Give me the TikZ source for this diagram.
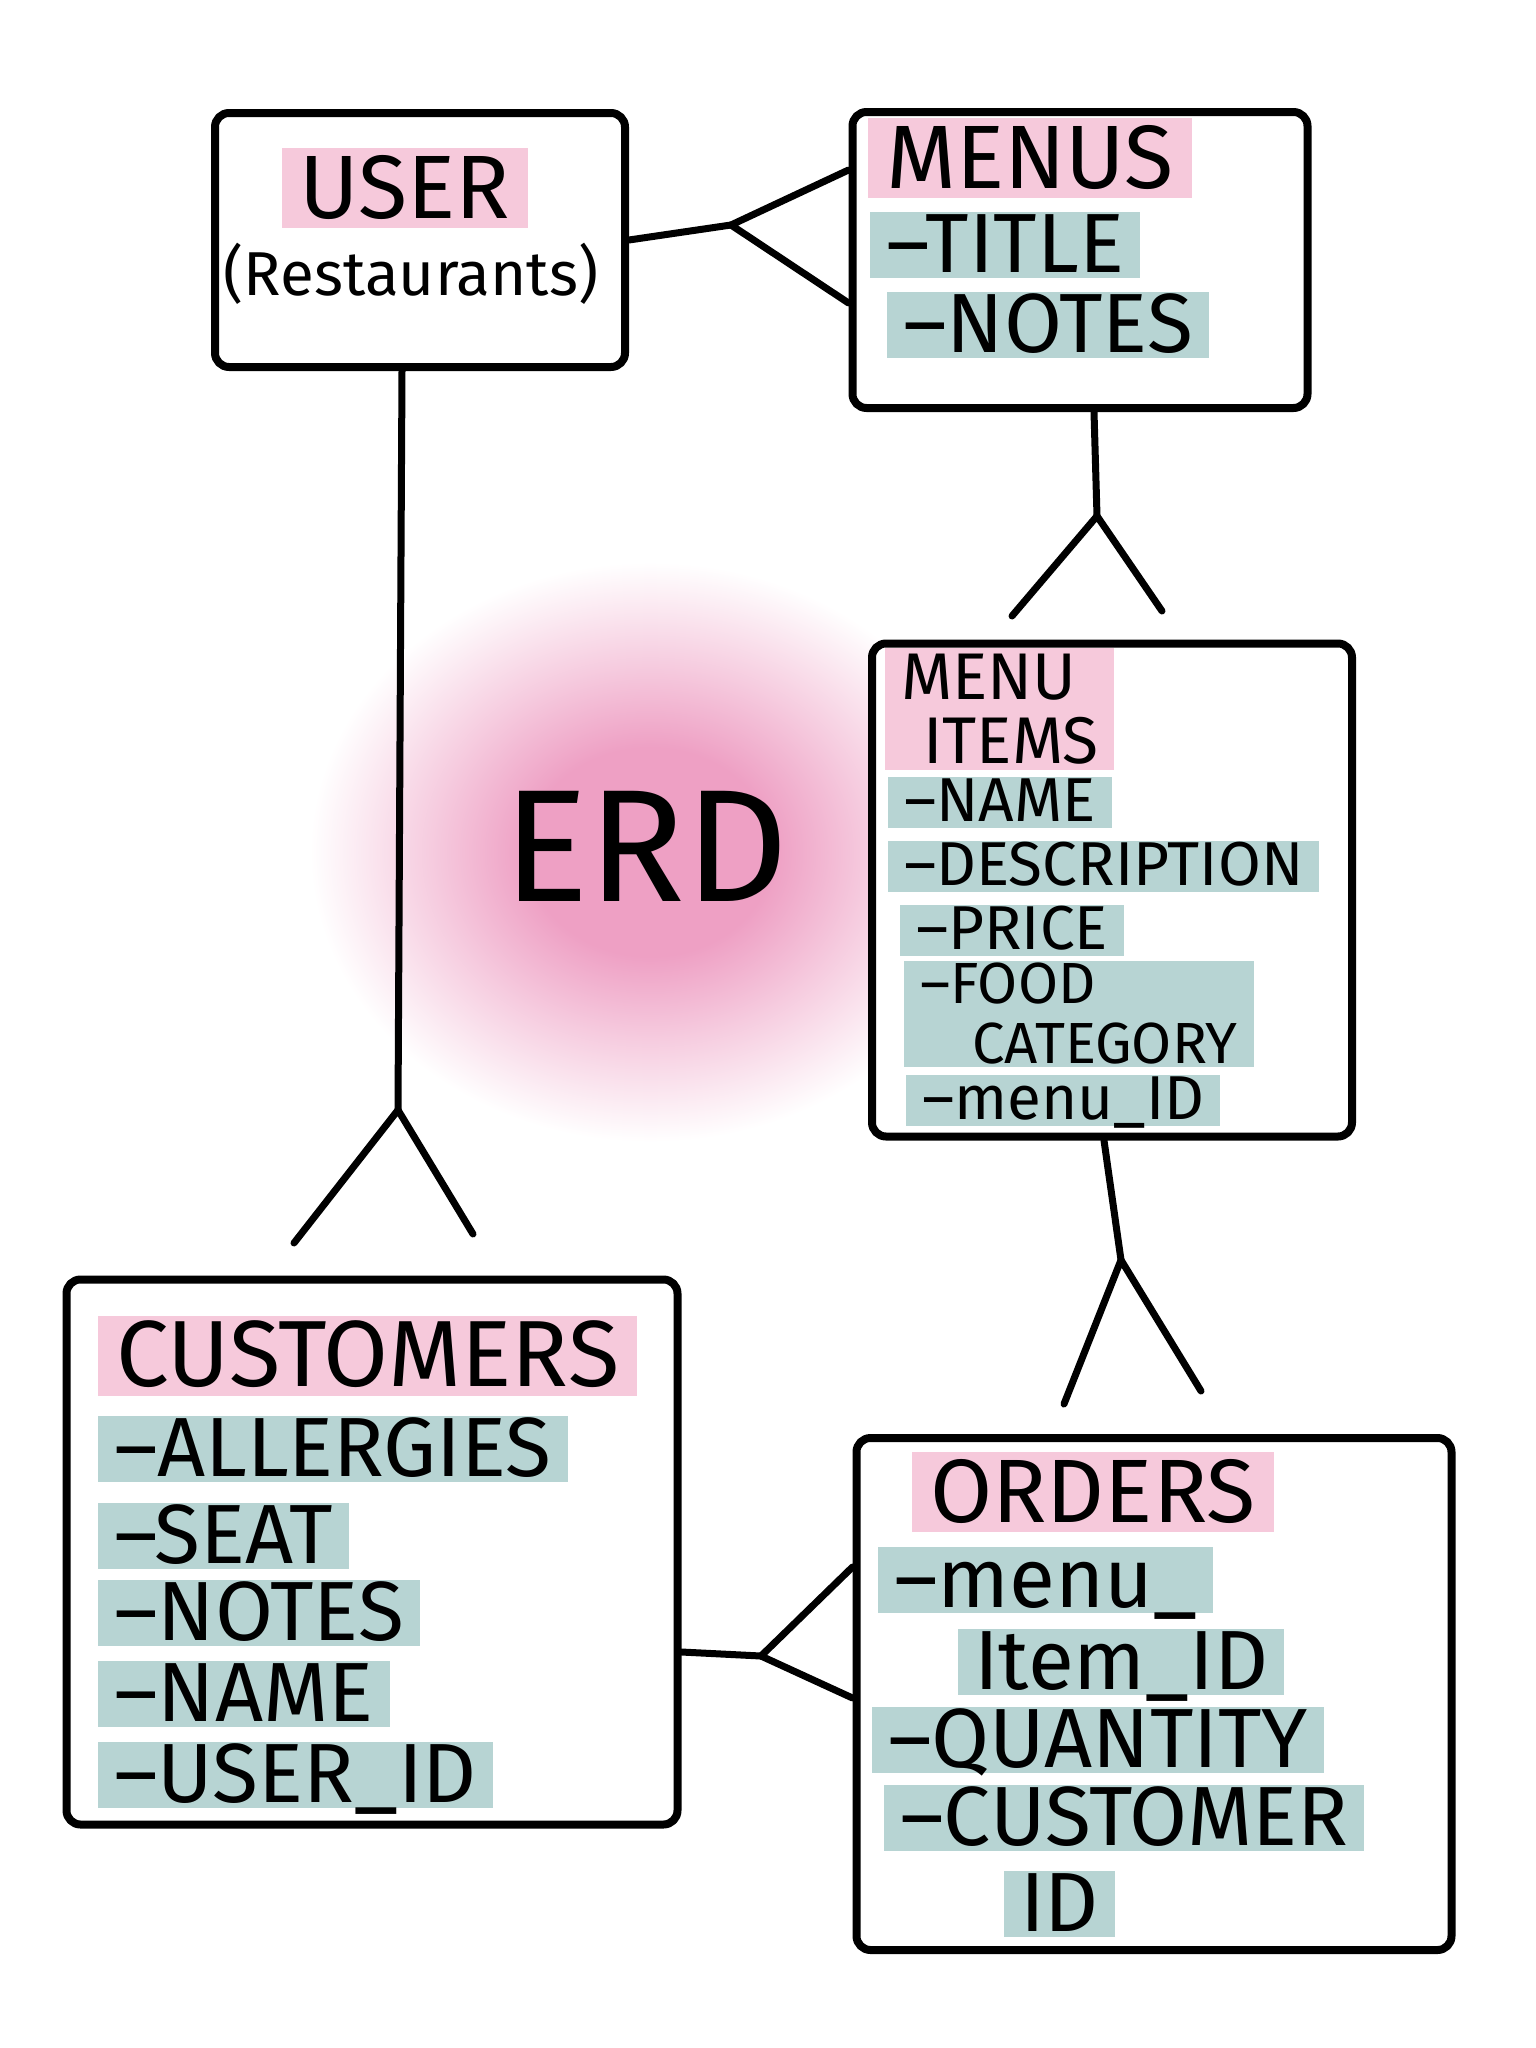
\documentclass[tikz,border=0pt]{standalone}
\usepackage{fontspec}
\setmainfont{Fira Sans}
\usepackage{tikz}
\usetikzlibrary{calc}

\definecolor{pinkhl}{RGB}{246,201,219}
\definecolor{tealhl}{RGB}{183,212,211}
\definecolor{glowpink}{RGB}{238,160,196}
\pgfdeclareradialshading{erdglow}{\pgfpoint{0bp}{0bp}}{color(0bp)=(glowpink); color(9bp)=(glowpink); color(16bp)=(glowpink!55); color(25bp)=(white); color(50bp)=(white)}

\begin{document}
\begin{tikzpicture}[x=1pt, y=-1pt, line cap=round, line join=round,
    entity/.style={draw, fill=white, line width=8pt, rounded corners=14pt, inner sep=0pt},
    link/.style={line width=7pt},
    head/.style={fill=pinkhl, font=\fontsize{90}{90}\selectfont, inner xsep=18pt, inner ysep=6pt, text height=64pt, text depth=4pt},
    attr/.style={fill=tealhl, font=\fontsize{84}{84}\selectfont, inner xsep=16pt, inner ysep=2pt, anchor=west, text height=58pt, text depth=4pt},
    smallattr/.style={font=\fontsize{62}{62}\selectfont, text height=43pt}]

        \useasboundingbox (0,0) rectangle (1536,2048);
        \fill[white] (0,0) rectangle (1536,2048);

        % Pink glow and title in the middle
        \shade[shading=erdglow] (650,852) ellipse [x radius=340, y radius=290];
        \node[font=\fontsize{160}{160}\selectfont] (erd) at (646,846) {ERD};

        % Entity boxes
        \node[entity, minimum width=410pt, minimum height=254pt] (user) at (420,240) {};
        \node[entity, minimum width=455pt, minimum height=296pt] (menus) at (1080,260) {};
        \node[entity, minimum width=480pt, minimum height=493pt] (items) at (1112,890) {};
        \node[entity, minimum width=611pt, minimum height=545pt] (customers) at (372,1552) {};
        \node[entity, minimum width=595pt, minimum height=512pt] (orders) at (1154,1694) {};

        % User -> Menus
        \coordinate (um) at (731,225);
        \draw[link] (user.east) -- (um);
        \draw[link] ($(menus.west)+(0,-90)$) -- (um) -- ($(menus.west)+(0,43)$);

        % Menus -> Menu items
        \coordinate (mi) at (1097,516);
        \coordinate (miL) at (1012,616);
        \coordinate (miR) at (1162,611);
        \draw[link] ($(menus.south)+(14,0)$) -- (mi);
        \draw[link] (miL) -- (mi) -- (miR);

        % Menu items -> Orders
        \coordinate (io) at (1121,1260);
        \coordinate (ioL) at (1064,1404);
        \coordinate (ioR) at (1201,1391);
        \draw[link] ($(items.south)+(-8,0)$) -- (io);
        \draw[link] (ioL) -- (io) -- (ioR);

        % User -> Customers
        \coordinate (uc) at (398,1110);
        \coordinate (ucL) at (294,1243);
        \coordinate (ucR) at (473,1234);
        \draw[link] ($(user.south)+(-18,0)$) -- (uc);
        \draw[link] (ucL) -- (uc) -- (ucR);

        % Customers -> Orders
        \coordinate (co) at (761,1656);
        \draw[link] ($(customers.east)+(0,100)$) -- (co);
        \draw[link] ($(orders.west)+(0,-127)$) -- (co) -- ($(orders.west)+(0,4)$);

        % User
        \node[head] (userT) at (405,188) {USER};
        \node[font=\fontsize{62}{62}\selectfont] (userS) at (411,274) {(Restaurants)};

        % Menus
        \node[head, anchor=west] (menusT) at (868,158) {MENUS};
        \node[attr] (menusA) at (870,245) {--TITLE};
        \node[attr] (menusB) at (887,325) {--NOTES};

        % Menu items
        \node[fill=pinkhl, anchor=north west, align=left, font=\fontsize{66}{64}\selectfont, inner xsep=16pt, inner ysep=6pt] (itemsT) at (885,648) {MENU\\\hspace*{22pt}ITEMS};
        \node[attr, smallattr] (itemsA) at (888,802) {--NAME};
        \node[attr, smallattr] (itemsB) at (888,866) {--DESCRIPTION};
        \node[attr, smallattr] (itemsC) at (900,930) {--PRICE};
        \node[fill=tealhl, anchor=west, align=left, font=\fontsize{58}{60}\selectfont, inner xsep=16pt, inner ysep=2pt] (itemsD) at (904,1014) {--FOOD\\\hspace*{52pt}CATEGORY};
        \node[attr, smallattr] (itemsE) at (906,1100) {--menu\_ID};

        % Customers
        \node[head, anchor=west, font=\fontsize{94}{94}\selectfont] (custT) at (98,1356) {CUSTOMERS};
        \node[attr] (custA) at (98,1449) {--ALLERGIES};
        \node[attr] (custB) at (98,1536) {--SEAT};
        \node[attr] (custC) at (98,1613) {--NOTES};
        \node[attr] (custD) at (98,1694) {--NAME};
        \node[attr] (custE) at (98,1775) {--USER\_ID};

        % Orders
        \node[head, anchor=west] (ordT) at (912,1492) {ORDERS};
        \node[attr] (ordB) at (958,1662) {Item\_ID};
        \node[attr] (ordA) at (878,1580) {--menu\_};
        \node[attr] (ordC) at (872,1740) {--QUANTITY};
        \node[attr] (ordD) at (884,1818) {--CUSTOMER};
        \node[attr] (ordE) at (1004,1904) {ID};
\end{tikzpicture}
\end{document}
